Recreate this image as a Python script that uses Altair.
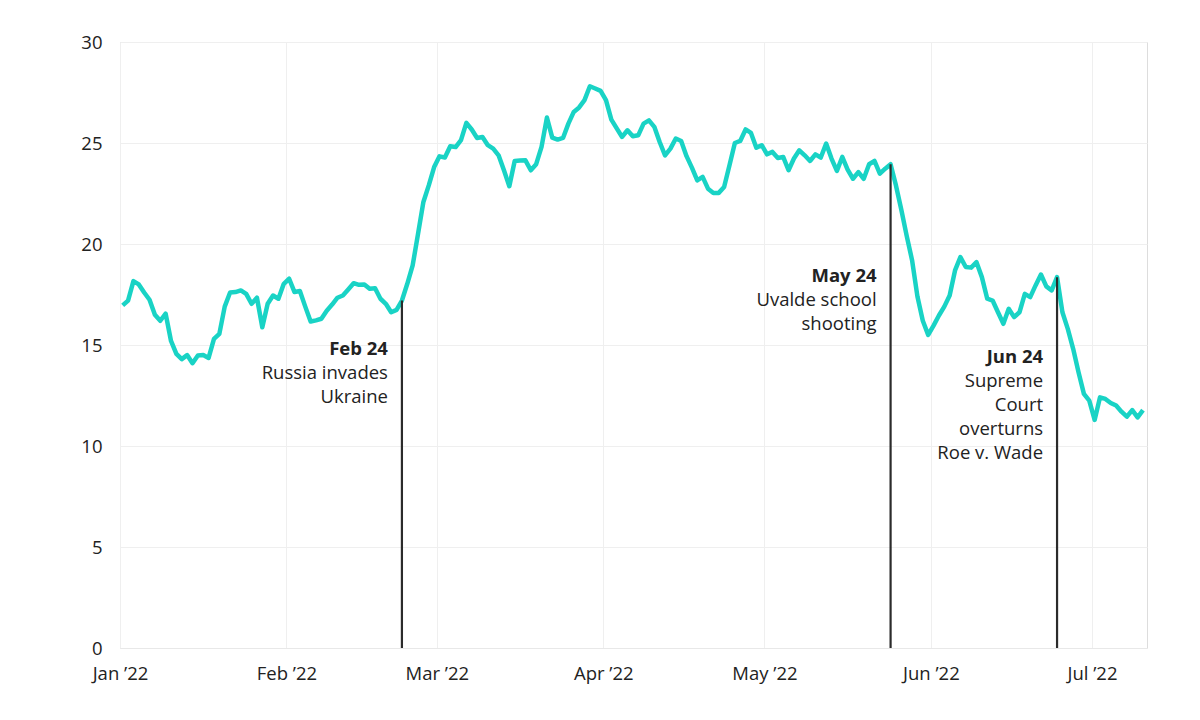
import altair as alt
import pandas as pd

# Daily values, Jan 1 2022 .. Jul 10 2022
values = [
    16.96, 17.2, 18.16, 18.0, 17.6, 17.24, 16.5, 16.2, 16.55, 15.2,
    14.56, 14.3, 14.5, 14.1, 14.48, 14.5, 14.36, 15.3, 15.55, 16.9,
    17.6, 17.62, 17.7, 17.53, 17.04, 17.34, 15.88, 17.04, 17.45, 17.29,
    18.03, 18.28, 17.62, 17.67, 16.9, 16.16, 16.22, 16.3, 16.7, 17.0,
    17.34, 17.45, 17.75, 18.06, 17.98, 18.0, 17.78, 17.81, 17.29, 17.04,
    16.62, 16.74, 17.2, 18.03, 18.94, 20.5, 22.08, 22.9, 23.81, 24.34,
    24.28, 24.84, 24.8, 25.14, 26.0, 25.67, 25.25, 25.3, 24.89, 24.72,
    24.39, 23.65, 22.86, 24.11, 24.13, 24.14, 23.65, 23.95, 24.81, 26.26,
    25.27, 25.17, 25.25, 25.96, 26.54, 26.76, 27.12, 27.81, 27.7, 27.58,
    27.12, 26.16, 25.72, 25.3, 25.63, 25.33, 25.38, 25.96, 26.12, 25.8,
    25.05, 24.39, 24.72, 25.22, 25.1, 24.35, 23.78, 23.15, 23.32, 22.74,
    22.53, 22.53, 22.82, 23.9, 25.0, 25.1, 25.67, 25.5, 24.77, 24.89,
    24.44, 24.56, 24.26, 24.31, 23.65, 24.23, 24.64, 24.39, 24.11, 24.44,
    24.28, 24.97, 24.23, 23.62, 24.31, 23.68, 23.23, 23.56, 23.23, 23.95,
    24.11, 23.48, 23.73, 23.95, 22.9, 21.7, 20.4, 19.2, 17.4, 16.2,
    15.5, 15.96, 16.46, 16.9, 17.45, 18.69, 19.35, 18.86, 18.83, 19.1,
    18.36, 17.29, 17.2, 16.62, 16.05, 16.79, 16.38, 16.62, 17.53, 17.37,
    17.95, 18.49, 17.9, 17.7, 18.36, 16.62, 15.8, 14.81, 13.65, 12.58,
    12.25, 11.29, 12.41, 12.33, 12.13, 12.0, 11.7, 11.45, 11.78, 11.42,
    11.78,
]
first_day = "2022-01-01"

event_days = ["2022-02-22", "2022-05-24", "2022-06-24"]
event_titles = ["Feb 24", "May 24", "Jun 24"]
event_texts = ["Russia invades\nUkraine", "Uvalde school\nshooting",
               "Supreme\nCourt\noverturns\nRoe v. Wade"]
label_levels = [14.5, 18.1, 14.1]

FONT = "Open Sans"
TEXT = "#222222"
LINE = "#19d3c5"

dates = pd.date_range(first_day, periods=len(values), freq="D")
df = pd.DataFrame({"date": dates + pd.Timedelta(hours=12), "value": values})

ev_dates = pd.to_datetime(event_days)
ev_vals = [values[(d - pd.Timestamp(first_day)).days] for d in ev_dates]
ev = pd.DataFrame({
    "date": ev_dates + pd.Timedelta(hours=12),
    "base": [0] * len(ev_vals),
    "top": ev_vals,
    "title": event_titles,
    "body": event_texts,
    "ty": label_levels,
})

xscale = alt.Scale(domain=["2022-01-01T00:00:00", "2022-07-11T06:00:00"], nice=False)
yscale = alt.Scale(domain=[0, 30], nice=False)

x_axis = alt.Axis(
    format="%b ’%y", tickCount="month",
    title=None, grid=True, gridColor="#efefef", domain=True, domainColor="#e8e8e8",
    ticks=False, labelFontSize=18.5, labelFont=FONT, labelColor=TEXT, labelPadding=16,
    labelAngle=0, labelFlush=False,
)
y_axis = alt.Axis(
    values=[0, 5, 10, 15, 20, 25, 30], title=None, grid=True, gridColor="#efefef",
    domain=False, ticks=False, labelFontSize=18.5, labelFont=FONT, labelColor=TEXT,
    labelPadding=18,
)

base_line = alt.Chart(df).mark_line(color=LINE, strokeWidth=4.5, strokeJoin="round").encode(
    x=alt.X("date:T", scale=xscale, axis=x_axis),
    y=alt.Y("value:Q", scale=yscale, axis=y_axis),
)

rules = alt.Chart(ev).mark_rule(color="#2b2b2b", strokeWidth=2.2).encode(
    x="date:T", y="base:Q", y2="top:Q",
)

titles = alt.Chart(ev).mark_text(
    align="right", baseline="alphabetic", dx=-14, font=FONT, fontSize=18.5,
    fontWeight="bold", color=TEXT,
).encode(x="date:T", y="ty:Q", text="title:N")

bodies = alt.Chart(ev).mark_text(
    align="right", baseline="alphabetic", dx=-14, dy=24, font=FONT, fontSize=18.5,
    color=TEXT, lineBreak="\n", lineHeight=24,
).encode(x="date:T", y="ty:Q", text="body:N")

chart = alt.layer(base_line, rules, titles, bodies).properties(
    width=1027, height=606,
    padding={"left": 72, "top": 25, "right": 10, "bottom": 10},
).configure_view(stroke=None).configure(background="white")

chart.save("out.html", embed_options={"renderer": "svg", "actions": False})
